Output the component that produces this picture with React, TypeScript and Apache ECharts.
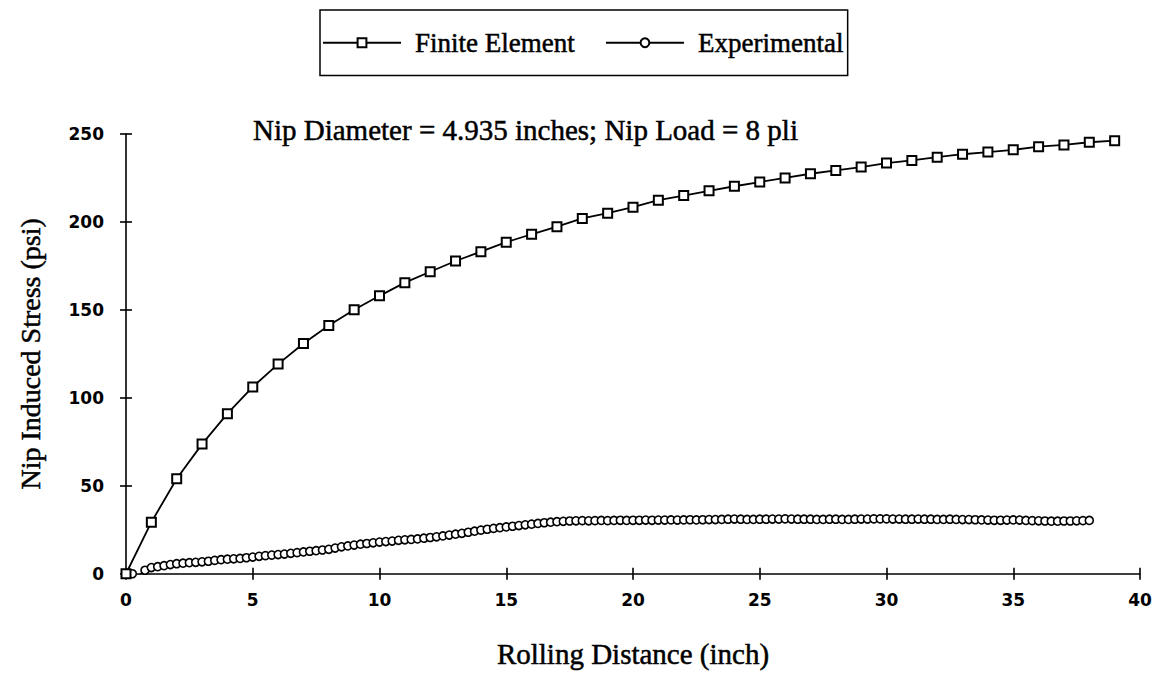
import React, { useEffect, useRef } from "react";
import * as echarts from "echarts";

const subtitle = "Nip Diameter = 4.935 inches; Nip Load = 8 pli";
const xTitle = "Rolling Distance (inch)";
const yTitle = "Nip Induced Stress (psi)";
const seriesNames = ["Finite Element", "Experimental"];

// Finite element: x (inch), stress (psi)
const feX = [0, 1, 2, 3, 4, 5, 6, 7, 8, 9, 10, 11, 12, 13, 14, 15, 16, 17, 18, 19, 20, 21, 22, 23, 24, 25, 26, 27, 28, 29, 30, 31, 32, 33, 34, 35, 36, 37, 38, 39];
const feY = [0, 29.3, 54, 73.7, 91, 106.2, 119.2, 130.9, 141.1, 150.1, 158, 165.5, 171.7, 177.8, 183.1, 188.5, 193, 197.3, 202, 205, 208.4, 212.4, 215, 217.7, 220.3, 222.7, 225, 227.4, 229.3, 231.2, 233.5, 235, 236.8, 238.5, 239.7, 241, 242.8, 243.8, 245.3, 246.2];

// Experimental: [x, stress]
const experimental: [number, number][] = [
  [0, 0], [0.25, 0], [0.5, -1], [0.75, 2], [1, 3.5], [1.25, 4], [1.5, 4.6], [1.75, 5.2],
  [2, 5.7], [2.25, 6], [2.5, 6.3], [2.75, 6.5], [3, 6.8], [3.25, 7.1], [3.5, 7.6], [3.75, 8],
  [4, 8.3], [4.25, 8.5], [4.5, 8.7], [4.75, 9.1], [5, 9.5], [5.25, 9.9], [5.5, 10.3], [5.75, 10.6],
  [6, 10.9], [6.25, 11.2], [6.5, 11.6], [6.75, 12], [7, 12.4], [7.25, 12.8], [7.5, 13.1], [7.75, 13.5],
  [8, 13.9], [8.25, 14.6], [8.5, 15.3], [8.75, 15.8], [9, 16.3], [9.25, 16.8], [9.5, 17.2], [9.75, 17.6],
  [10, 18], [10.25, 18.3], [10.5, 18.6], [10.75, 19], [11, 19.3], [11.25, 19.5], [11.5, 19.8], [11.75, 20.2],
  [12, 20.6], [12.25, 21], [12.5, 21.5], [12.75, 22], [13, 22.5], [13.25, 23], [13.5, 23.6], [13.75, 24.2],
  [14, 24.8], [14.25, 25.3], [14.5, 25.8], [14.75, 26.2], [15, 26.6], [15.25, 27], [15.5, 27.4], [15.75, 27.8],
  [16, 28.2], [16.25, 28.6], [16.5, 29], [16.75, 29.3], [17, 29.6], [17.25, 29.8], [17.5, 30], [17.75, 30.1],
  [18, 30.2], [18.25, 30.1], [18.5, 30.2], [18.75, 30.3], [19, 30.2], [19.25, 30.3], [19.5, 30.4], [19.75, 30.3],
  [20, 30.4], [20.25, 30.4], [20.5, 30.5], [20.75, 30.4], [21, 30.5], [21.25, 30.5], [21.5, 30.6], [21.75, 30.5],
  [22, 30.6], [22.25, 30.7], [22.5, 30.6], [22.75, 30.7], [23, 30.8], [23.25, 30.8], [23.5, 30.9], [23.75, 31],
  [24, 31.1], [24.25, 31], [24.5, 30.9], [24.75, 30.9], [25, 31], [25.25, 31], [25.5, 31.1], [25.75, 31.1],
  [26, 31.2], [26.25, 31.1], [26.5, 31], [26.75, 31], [27, 31], [27.25, 30.9], [27.5, 30.9], [27.75, 31],
  [28, 31], [28.25, 30.9], [28.5, 30.9], [28.75, 31], [29, 31.1], [29.25, 31.1], [29.5, 31.2], [29.75, 31.2],
  [30, 31.2], [30.25, 31.1], [30.5, 31.1], [30.75, 31], [31, 31], [31.25, 31.1], [31.5, 31], [31.75, 31],
  [32, 30.9], [32.25, 30.9], [32.5, 31], [32.75, 30.9], [33, 30.8], [33.25, 30.8], [33.5, 30.7], [33.75, 30.6],
  [34, 30.5], [34.25, 30.4], [34.5, 30.4], [34.75, 30.5], [35, 30.6], [35.25, 30.5], [35.5, 30.3], [35.75, 30.2],
  [36, 30.1], [36.25, 30], [36.5, 29.9], [36.75, 29.9], [37, 30], [37.25, 30], [37.5, 30.1], [37.75, 30.2],
  [38, 30.3],
];

const xMin = 0, xMax = 40, xStep = 5;
const yMin = 0, yMax = 250, yStep = 50;

const serif = "'Liberation Serif', 'Times New Roman', serif";
const sans = "'DejaVu Sans', sans-serif";
const serifText = { fontFamily: serif, color: "#000", textBorderColor: "#000", textBorderWidth: 0.5 };

export default function App() {
  const ref = useRef<HTMLDivElement>(null);
  useEffect(() => {
    if (!ref.current) return;
    const chart = echarts.init(ref.current, undefined, { renderer: "svg" });
    const axisLine = { show: true, lineStyle: { color: "#000", width: 1.6 } };
    const tickStyle = { color: "#000", width: 1.6 };
    chart.setOption({
      animation: false,
      backgroundColor: "#fff",
      title: {
        text: subtitle,
        left: 253,
        top: 115,
        padding: 0,
        textStyle: { ...serifText, fontSize: 29, fontWeight: "normal" },
      },
      legend: {
        left: 320,
        top: 10,
        orient: "horizontal",
        itemWidth: 78,
        itemHeight: 11,
        itemGap: 30,
        padding: [19, 4, 19, 2],
        borderColor: "#000",
        borderWidth: 1.5,
        data: seriesNames,
        textStyle: { ...serifText, fontSize: 27, padding: [0, 0, 0, 9] },
      },
      grid: { left: 126, right: 17, top: 134, bottom: 96, containLabel: false },
      xAxis: [
        {
          type: "value", min: xMin, max: xMax, interval: xStep,
          axisLine, axisTick: { show: true, inside: false, length: 6, lineStyle: tickStyle },
          axisLabel: { margin: 18, fontFamily: sans, fontWeight: "bold", fontSize: 17, color: "#000" },
          splitLine: { show: false },
          name: xTitle, nameLocation: "middle", nameGap: 66,
          nameTextStyle: { ...serifText, fontSize: 29 },
        },
        {
          type: "value", min: xMin, max: xMax, interval: xStep, position: "bottom",
          axisLine: { show: false }, axisTick: { show: true, inside: true, length: 6, lineStyle: tickStyle },
          axisLabel: { show: false }, splitLine: { show: false },
        },
      ],
      yAxis: [
        {
          type: "value", min: yMin, max: yMax, interval: yStep,
          axisLine, axisTick: { show: true, inside: false, length: 6, lineStyle: tickStyle },
          axisLabel: { margin: 22, fontFamily: sans, fontWeight: "bold", fontSize: 17, color: "#000" },
          splitLine: { show: false },
          name: yTitle, nameLocation: "middle", nameGap: 82,
          nameTextStyle: { ...serifText, fontSize: 28 },
        },
        {
          type: "value", min: yMin, max: yMax, interval: yStep, position: "left",
          axisLine: { show: false }, axisTick: { show: true, inside: true, length: 6, lineStyle: tickStyle },
          axisLabel: { show: false }, splitLine: { show: false },
        },
      ],
      series: [
        {
          name: seriesNames[0],
          type: "line",
          data: feX.map((x, i) => [x, feY[i]]),
          symbol: "rect",
          symbolSize: 9,
          showAllSymbol: true,
          itemStyle: { color: "#fff", borderColor: "#000", borderWidth: 2 },
          lineStyle: { color: "#000", width: 1.8 },
          z: 3,
        },
        {
          name: seriesNames[1],
          type: "line",
          data: experimental,
          symbol: "circle",
          symbolSize: 8,
          showAllSymbol: true,
          itemStyle: { color: "#fff", borderColor: "#000", borderWidth: 1.6 },
          lineStyle: { color: "#000", width: 1.5 },
          z: 2,
        },
      ],
    });
    return () => chart.dispose();
  }, []);
  return (
    <div
      ref={ref}
      style={{ position: "fixed", left: 0, top: 0, width: 1157, height: 674, background: "#fff" }}
    />
  );
}
